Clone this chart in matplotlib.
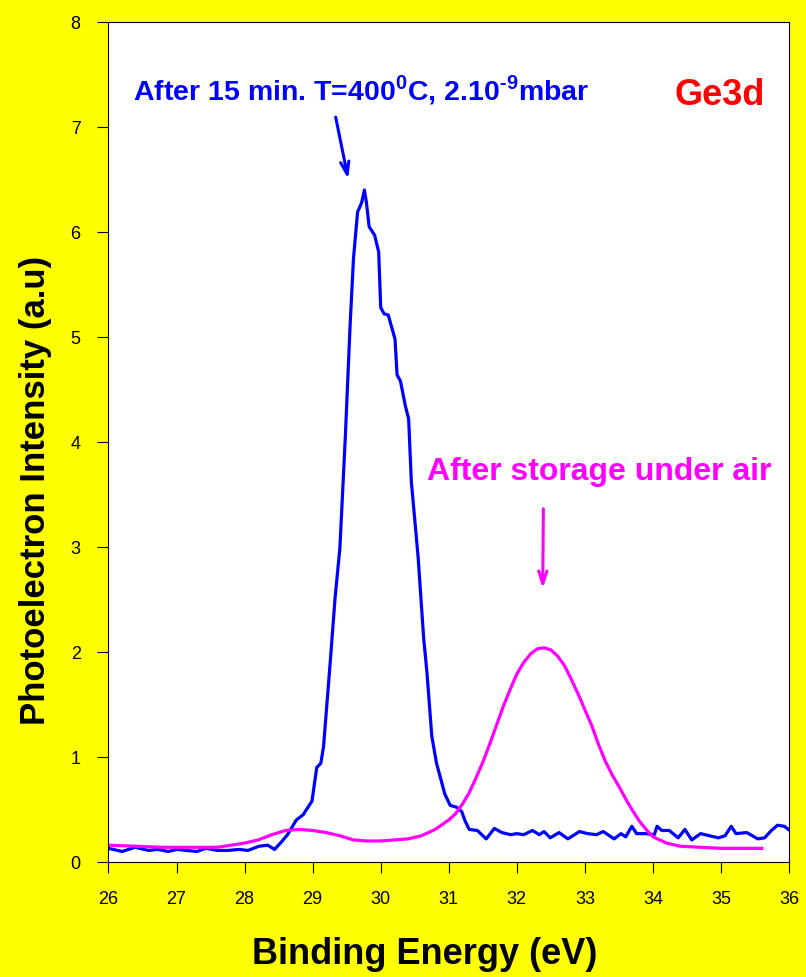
import matplotlib
matplotlib.use("Agg")
import matplotlib.pyplot as plt

# blue curve: after 15 min at 400 C
be_blue = [26.00, 26.20, 26.39, 26.59, 26.72, 26.88, 27.01, 27.14, 27.30, 27.43,
           27.60, 27.76, 27.92, 28.05, 28.21, 28.34, 28.44, 28.54, 28.63, 28.76,
           28.86, 28.99, 29.06, 29.12, 29.16, 29.26, 29.33, 29.40, 29.48, 29.55,
           29.60, 29.66, 29.72, 29.76, 29.79, 29.83, 29.91, 29.97, 30.00, 30.05,
           30.11, 30.21, 30.24, 30.29, 30.36, 30.41, 30.45, 30.55, 30.63, 30.68,
           30.75, 30.82, 30.87, 30.94, 31.02, 31.12, 31.19, 31.24, 31.30, 31.42,
           31.55, 31.67, 31.78, 31.91, 32.00, 32.10, 32.23, 32.33, 32.40, 32.49,
           32.62, 32.75, 32.92, 33.04, 33.17, 33.27, 33.43, 33.53, 33.60, 33.69,
           33.76, 33.89, 34.02, 34.06, 34.13, 34.24, 34.37, 34.47, 34.57, 34.70,
           34.83, 34.96, 35.06, 35.15, 35.22, 35.38, 35.54, 35.64, 35.74, 35.83,
           35.93, 36.03]
int_blue = [0.13, 0.10, 0.14, 0.11, 0.12, 0.10, 0.12, 0.11, 0.10, 0.13,
            0.11, 0.11, 0.12, 0.11, 0.15, 0.16, 0.12, 0.19, 0.26, 0.40,
            0.45, 0.58, 0.90, 0.94, 1.10, 1.92, 2.52, 2.99, 4.05, 5.11,
            5.75, 6.19, 6.28, 6.40, 6.28, 6.05, 5.97, 5.81, 5.28, 5.22,
            5.21, 4.98, 4.64, 4.58, 4.35, 4.22, 3.62, 2.90, 2.14, 1.80,
            1.20, 0.94, 0.82, 0.65, 0.54, 0.52, 0.48, 0.39, 0.31, 0.30,
            0.22, 0.32, 0.28, 0.26, 0.27, 0.26, 0.30, 0.26, 0.29, 0.23,
            0.28, 0.22, 0.29, 0.27, 0.26, 0.29, 0.22, 0.27, 0.24, 0.34,
            0.27, 0.27, 0.26, 0.34, 0.30, 0.30, 0.23, 0.31, 0.21, 0.27,
            0.25, 0.23, 0.25, 0.34, 0.27, 0.28, 0.22, 0.23, 0.30, 0.35,
            0.34, 0.29]

# magenta curve: after storage under air
be_mag = [26.0, 26.4, 26.8, 27.2, 27.6, 27.8, 28.0, 28.2, 28.4, 28.6,
          28.8, 29.0, 29.2, 29.4, 29.6, 29.8, 30.0, 30.2, 30.4, 30.6,
          30.8, 31.0, 31.1, 31.2, 31.3, 31.4, 31.5, 31.6, 31.7, 31.8,
          31.9, 32.0, 32.1, 32.2, 32.3, 32.4, 32.5, 32.6, 32.7, 32.8,
          32.9, 33.0, 33.1, 33.2, 33.3, 33.4, 33.5, 33.6, 33.7, 33.8,
          33.9, 34.0, 34.2, 34.4, 34.7, 35.0, 35.3, 35.6]
int_mag = [0.16, 0.15, 0.14, 0.14, 0.14, 0.16, 0.18, 0.21, 0.26, 0.30,
           0.31, 0.30, 0.28, 0.25, 0.21, 0.20, 0.20, 0.21, 0.22, 0.25,
           0.31, 0.40, 0.46, 0.55, 0.66, 0.80, 0.95, 1.12, 1.30, 1.48,
           1.64, 1.79, 1.90, 1.98, 2.03, 2.04, 2.02, 1.96, 1.87, 1.74,
           1.60, 1.45, 1.30, 1.12, 0.96, 0.83, 0.72, 0.60, 0.49, 0.39,
           0.31, 0.24, 0.18, 0.15, 0.14, 0.13, 0.13, 0.13]

xticks = list(range(26, 37))
yticks = list(range(0, 9))

plt.rcParams['font.family'] = ['Liberation Sans', 'DejaVu Sans']
plt.rcParams['mathtext.fontset'] = 'custom'
plt.rcParams['mathtext.rm'] = 'Liberation Sans:bold'
plt.rcParams['mathtext.bf'] = 'Liberation Sans:bold'

fig = plt.figure(figsize=(8.06, 9.78), dpi=100, facecolor='#FFFF00')
ax = fig.add_axes([0.1346, 0.1176, 0.8444, 0.8589])
ax.set_facecolor('white')

ax.plot(be_blue, int_blue, color='#0000FF', lw=2.3, solid_joinstyle='round')
ax.plot(be_mag, int_mag, color='#FF00FF', lw=2.3)

ax.set_xlim(26, 36)
ax.set_ylim(0, 8)
ax.set_xticks(xticks)
ax.set_yticks(yticks)
ax.tick_params(direction='out', length=8, width=0.8, labelsize=13, pad=12)
for s in ax.spines.values():
    s.set_linewidth(0.8)

fig.text(425 / 806, 1 - 955 / 978, 'Binding Energy (eV)', fontsize=26,
         fontweight='bold', ha='center', va='center')
fig.text(36 / 806, 1 - 490 / 978, 'Photoelectron Intensity (a.u)', fontsize=25,
         fontweight='bold', rotation=90, ha='center', va='center')

ax.text(26.36, 7.27, 'After 15 min. T=400$^{0}$C, 2.10$^{\\text{-}9}$mbar',
        color='#0000FF', fontsize=20.5, fontweight='bold',
        ha='left', va='baseline')
ax.text(34.32, 7.22, 'Ge3d', color='#FF0000', fontsize=26, fontweight='bold',
        ha='left', va='baseline')
ax.text(30.68, 3.65, 'After storage under air', color='#FF00FF', fontsize=23,
        fontweight='bold', ha='left', va='baseline')

ax.annotate('', xy=(29.53, 6.48), xytext=(29.33, 7.12),
            arrowprops=dict(arrowstyle='->,head_length=0.9,head_width=0.3',
                            color='#0000FF', lw=2.2))
ax.annotate('', xy=(32.38, 2.58), xytext=(32.39, 3.39),
            arrowprops=dict(arrowstyle='->,head_length=0.9,head_width=0.3',
                            color='#FF00FF', lw=2.2))

fig.savefig('out.png', dpi=100, facecolor=fig.get_facecolor())
